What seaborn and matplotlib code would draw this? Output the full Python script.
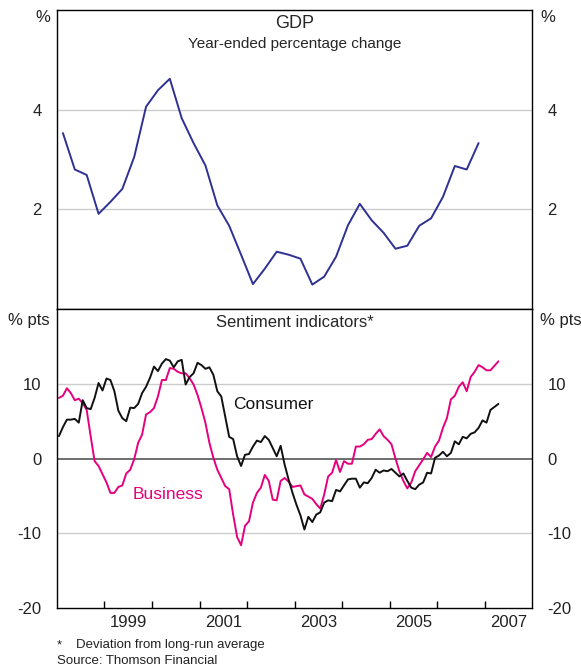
import numpy as np
import pandas as pd
import matplotlib
matplotlib.use("Agg")
import matplotlib.pyplot as plt
from matplotlib.ticker import FixedLocator, FixedFormatter, NullFormatter
import seaborn as sns

sns.set_theme(style="white")
plt.rcParams["font.family"] = ["Liberation Sans", "DejaVu Sans"]

# GDP, year-ended % change, quarterly from Mar 1998 to Dec 2006
gdp = [3.53, 2.80, 2.69, 1.91, 2.15, 2.41, 3.05, 4.06, 4.39, 4.62,
       3.83, 3.33, 2.88, 2.08, 1.67, 1.09, 0.50, 0.81, 1.15, 1.09,
       1.01, 0.49, 0.65, 1.05, 1.68, 2.11, 1.78, 1.53, 1.21, 1.27,
       1.67, 1.82, 2.25, 2.87, 2.80, 3.33]

# sentiment, deviation from long-run average, monthly Jan 1998 to Apr 2007
consumer = [3.0, 4.2, 5.2, 5.2, 5.3, 4.8, 7.8, 6.75, 6.6, 8.1,
            10.1, 9.1, 10.7, 10.5, 9.0, 6.4, 5.4, 5.0, 6.8, 6.75,
            7.3, 8.75, 9.6, 10.8, 12.3, 11.7, 12.7, 13.3, 13.1, 12.2,
            13.0, 13.2, 9.9, 10.9, 11.4, 12.8, 12.5, 12.0, 12.2, 11.2,
            9.0, 8.3, 5.6, 2.9, 2.6, 0.3, -1.0, 0.5, 0.6, 1.6,
            2.4, 2.2, 3.0, 2.5, 1.4, 0.3, 1.7, -0.8, -2.8, -4.6,
            -6.2, -7.6, -9.5, -7.8, -8.5, -7.5, -7.2, -5.9, -5.6, -5.7,
            -4.2, -4.4, -3.6, -2.8, -2.7, -2.7, -3.9, -3.2, -3.3, -2.6,
            -1.5, -1.9, -1.6, -1.7, -1.4, -1.9, -2.4, -2.0, -3.0, -3.9,
            -4.1, -3.5, -3.2, -1.9, -2.0, 0.1, 0.4, 0.9, 0.3, 0.75,
            2.3, 1.9, 2.9, 2.7, 3.3, 3.5, 4.1, 5.1, 4.8, 6.5,
            6.9, 7.3]
business = [8.1, 8.4, 9.4, 8.75, 7.8, 8.0, 7.4, 6.5, 3.0, -0.35,
            -1.0, -2.1, -3.2, -4.6, -4.6, -3.8, -3.6, -2.0, -1.5, -0.1,
            2.1, 3.2, 5.9, 6.2, 6.75, 8.3, 10.5, 10.5, 12.1, 12.0,
            11.6, 11.4, 11.4, 10.75, 9.9, 8.5, 6.75, 4.75, 2.1, 0.1,
            -1.5, -2.6, -3.7, -4.1, -7.5, -10.5, -11.6, -9.0, -8.4, -5.9,
            -4.6, -3.9, -2.2, -3.0, -5.5, -5.6, -3.0, -2.6, -3.1, -3.8,
            -3.7, -3.6, -4.8, -5.1, -5.4, -6.1, -6.7, -4.8, -2.4, -1.9,
            -0.2, -1.8, -0.35, -0.7, -0.7, 1.6, 1.6, 1.9, 2.5, 2.6,
            3.3, 3.9, 3.0, 2.5, 1.9, 0.0, -1.7, -3.0, -4.0, -3.2,
            -1.7, -0.9, -0.1, 0.75, 0.2, 1.6, 2.4, 4.1, 5.4, 7.9,
            8.4, 9.6, 10.2, 9.0, 10.9, 11.6, 12.5, 12.2, 11.8, 11.8,
            12.4, 13.0]

year_ticks = list(range(1999, 2008))
year_labels = ["1999", "2001", "2003", "2005", "2007"]

gdp_df = pd.DataFrame({"date": 1998.125 + 0.25 * np.arange(len(gdp)), "gdp": gdp})
sent = pd.DataFrame({"date": 1998 + (np.arange(len(consumer)) + 0.5) / 12,
                     "Consumer": consumer, "Business": business})

GRID = "#cccccc"
BLUE = "#2e3192"
PINK = "#e6007e"


def style_panel(ax, ticks, lo, hi):
    ax.set_xlim(1998, 2008)
    ax.set_ylim(lo, hi)
    ax.set_yticks(ticks)
    ax.set_yticklabels([f"{t:g}" for t in ticks])
    ax.tick_params(axis="y", left=False, right=False, labelleft=True,
                   labelright=True, labelsize=12, pad=5, colors="#222222")
    for s in ax.spines.values():
        s.set_color("black")
        s.set_linewidth(1.0)
    ax.set_xlabel("")
    ax.set_ylabel("")


fig = plt.figure(figsize=(5.81, 6.68), dpi=100)
ax1 = fig.add_axes([0.0981, 0.5374, 0.8176, 0.4476])
ax2 = fig.add_axes([0.0981, 0.0898, 0.8176, 0.4476])

# top panel: GDP
for g in [2, 4]:
    ax1.axhline(g, color=GRID, lw=1, zorder=0)
sns.lineplot(data=gdp_df, x="date", y="gdp", ax=ax1, color=BLUE, lw=1.4)
style_panel(ax1, [2, 4], 0, 6)
ax1.set_xticks([])
ax1.text(0.5, 0.955, "GDP", transform=ax1.transAxes, ha="center", va="center", fontsize=13)
ax1.text(0.5, 0.888, "Year-ended percentage change", transform=ax1.transAxes,
         ha="center", va="center", fontsize=11)

# bottom panel: sentiment
for g in [10, -10]:
    ax2.axhline(g, color=GRID, lw=1, zorder=0)
ax2.axhline(0, color="#555555", lw=1.2, zorder=0)
sns.lineplot(data=sent, x="date", y="Business", ax=ax2, color=PINK, lw=1.4)
sns.lineplot(data=sent, x="date", y="Consumer", ax=ax2, color="#111111", lw=1.4)
style_panel(ax2, [-20, -10, 0, 10], -20, 20)
ax2.xaxis.set_major_locator(FixedLocator(year_ticks))
ax2.xaxis.set_major_formatter(NullFormatter())
ax2.xaxis.set_minor_locator(FixedLocator([int(y) + 0.5 for y in year_labels]))
ax2.xaxis.set_minor_formatter(FixedFormatter(year_labels))
ax2.tick_params(axis="x", which="major", direction="in", length=5, width=1,
                color="black", bottom=True)
ax2.tick_params(axis="x", which="minor", length=0, labelsize=12, pad=5, colors="#222222")
ax2.text(0.5, 0.955, "Sentiment indicators*", transform=ax2.transAxes,
         ha="center", va="center", fontsize=12)
ax2.text(2001.71, 7.2, "Consumer", ha="left", va="center", fontsize=12.5, color="#111111")
ax2.text(1999.60, -4.8, "Business", ha="left", va="center", fontsize=12.5, color=PINK)

# unit labels
for ax, unit, yy in [(ax1, "%", 0.975), (ax2, "% pts", 0.963)]:
    ax.text(-0.015, yy, unit, transform=ax.transAxes, ha="right", va="center",
            fontsize=12, color="#222222")
    ax.text(1.017, yy, unit, transform=ax.transAxes, ha="left", va="center",
            fontsize=12, color="#222222")

fig.text(0.098, 0.034, "*", fontsize=9.5, va="center", color="#222222")
fig.text(0.130, 0.034, "Deviation from long-run average", fontsize=9.5, va="center", color="#222222")
fig.text(0.098, 0.011, "Source: Thomson Financial", fontsize=9.5, va="center", color="#222222")

fig.savefig("out.png", dpi=100)
